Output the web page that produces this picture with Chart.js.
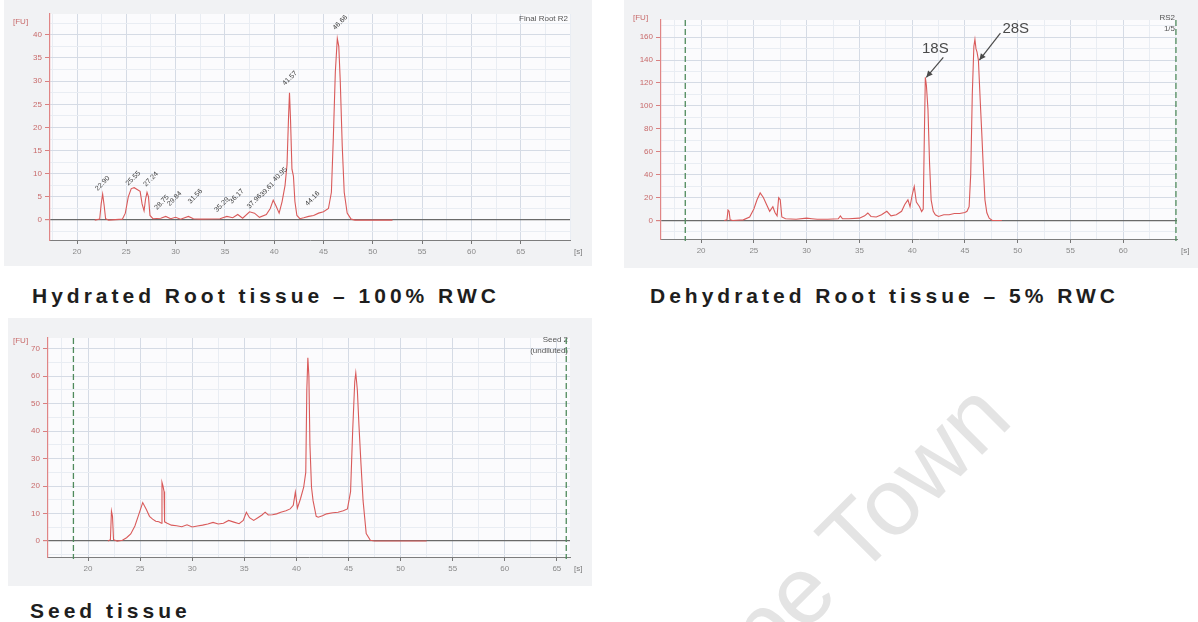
<!DOCTYPE html>
<html>
<head>
<meta charset="utf-8">
<script src="https://cdn.jsdelivr.net/npm/chart.js@4.4.1/dist/chart.umd.min.js"></script>
<style>
  html, body { margin: 0; padding: 0; background: #fff; }
  body { position: relative; width: 1198px; height: 622px; overflow: hidden; font-family: 'Liberation Sans', Arial, sans-serif; }
  canvas { position: absolute; background: #f1f2f4; }
  .caption { position: absolute; font-size: 21px; line-height: 1; font-weight: bold; color: #1e1e1e; letter-spacing: 4px; white-space: nowrap; }
  .watermark { position: absolute; left: 680px; top: 677px; font-size: 95px; line-height: 1; color: #e4e4e4; white-space: nowrap; transform-origin: 0 80px; transform: rotate(-45deg); }
</style>
</head>
<body>
<div class="watermark">Cape Town</div>

<canvas id="hydratedChart" width="588" height="266" style="left:4px;top:0"></canvas>
<canvas id="dehydratedChart" width="574" height="268" style="left:624px;top:0"></canvas>
<canvas id="seedChart" width="584" height="268" style="left:8px;top:318px"></canvas>

<div class="caption" style="left:32px;top:285px">Hydrated Root tissue – 100% RWC</div>
<div class="caption" style="left:650px;top:285px">Dehydrated Root tissue – 5% RWC</div>
<div class="caption" style="left:30px;top:600px">Seed tissue</div>

<script>
// Hydrated root, 100% RWC (time [s], fluorescence [FU])
const hydratedTime = [21.8, 22.3, 22.45, 22.6, 22.75, 22.9, 23.2, 24.6, 24.9, 25.2, 25.5, 25.8, 26.1, 26.4, 26.6, 26.8, 26.95, 27.1, 27.25, 27.4, 27.7, 28.5, 29.0, 29.5, 30.0, 30.5, 31.3, 31.8, 32.5, 34.5, 35.2, 35.8, 36.3, 36.8, 37.5, 38.0, 38.5, 39.2, 39.6, 39.9, 40.2, 40.5, 40.8, 41.1, 41.3, 41.45, 41.55, 41.65, 41.8, 41.95, 42.1, 42.3, 42.6, 43.0, 43.5, 44.0, 44.5, 45.0, 45.5, 45.8, 46.0, 46.2, 46.4, 46.55, 46.7, 46.9, 47.1, 47.4, 47.8, 48.2, 52.0];
const hydratedFU = [0, 0.2, 3.5, 5.6, 3.2, 0.3, 0, 0.2, 1.5, 5.0, 6.8, 7.0, 6.6, 6.2, 3.5, 2.0, 4.5, 6.0, 5.0, 1.0, 0.3, 0.4, 0.8, 0.3, 0.6, 0.2, 0.8, 0.3, 0.2, 0.3, 0.8, 0.5, 1.2, 0.4, 1.8, 1.5, 0.6, 1.2, 2.5, 4.3, 3.0, 1.5, 4.0, 7.5, 12, 22, 27.5, 22, 11, 9.5, 4, 1, 0.3, 0.5, 0.8, 1.0, 1.5, 1.8, 2.5, 6, 18, 32, 39.2, 37.5, 30, 16, 6, 1.5, 0.2, 0, 0];

const hydratedPeakTime = [22.1, 25.2, 27.0, 28.1, 29.4, 31.5, 34.2, 35.7, 37.5, 38.8, 40.1, 41.1, 43.4, 46.2];
const hydratedPeakFU = [6.3, 7.4, 7.2, 2.2, 3.0, 3.5, 1.7, 3.5, 2.4, 5.0, 8.2, 29.0, 3.0, 41.0];
const hydratedPeakText = ['22.90', '25.55', '27.24', '28.75', '29.84', '31.56', '35.29', '36.17', '37.96', '39.61', '40.95', '41.57', '44.16', '46.66'];

const hydratedXLabels = [20, 25, 30, 35, 40, 45, 50, 55, 60, 65];
const hydratedYLabels = [0, 5, 10, 15, 20, 25, 30, 35, 40];

// Dehydrated root, 5% RWC
const dehydratedTime = [22.2, 22.45, 22.55, 22.65, 22.75, 23.0, 24.0, 24.6, 25.0, 25.3, 25.6, 25.9, 26.2, 26.5, 26.8, 27.0, 27.2, 27.35, 27.5, 27.65, 28.0, 29.0, 30.0, 30.5, 31.0, 32.0, 33.0, 33.2, 33.4, 34.0, 35.0, 35.5, 35.8, 36.1, 36.6, 37.1, 37.6, 38.0, 38.5, 39.0, 39.3, 39.6, 39.8, 40.0, 40.2, 40.4, 40.7, 40.9, 41.05, 41.15, 41.25, 41.35, 41.5, 41.65, 41.8, 42.0, 42.2, 42.5, 43.0, 43.5, 44.0, 44.5, 45.0, 45.2, 45.4, 45.55, 45.7, 45.85, 45.95, 46.05, 46.15, 46.28, 46.45, 46.6, 46.75, 46.9, 47.08, 47.3, 47.6, 48.5];
const dehydratedFU = [0, 0.5, 9, 8, 0.5, 0, 0.5, 3, 10, 18, 24, 20, 14, 8, 12, 7, 4, 19.8, 18, 3, 1.5, 1.0, 2.0, 1.5, 1, 1, 1.5, 4, 1.5, 1.5, 2, 4, 6.5, 3.5, 3, 5, 8, 4, 5, 8, 14, 18, 12, 22, 29.7, 16, 12, 7.8, 10, 70, 125, 118, 97, 50, 18, 8, 5, 3.5, 5, 5, 6, 6, 7, 8, 12, 40, 110, 152, 158, 150, 147, 140, 105, 76, 45, 18, 6.7, 2, 0, 0];

const dehydratedBandName = ['18S', '28S'];
const dehydratedBandTime = [41.25, 46.28];
const dehydratedBandFU = [125, 140];

const dehydratedXLabels = [20, 25, 30, 35, 40, 45, 50, 55, 60];
const dehydratedYLabels = [0, 20, 40, 60, 80, 100, 120, 140, 160];
const dehydratedMarkerTime = [18.5, 65.0];

// Seed tissue
const seedTime = [21.9, 22.15, 22.25, 22.35, 22.45, 22.8, 23.3, 23.7, 24.1, 24.5, 24.9, 25.25, 25.6, 25.9, 26.2, 26.5, 26.8, 27.05, 27.1, 27.2, 27.3, 27.35, 27.6, 28.0, 28.5, 29.0, 29.5, 30.0, 30.5, 31.0, 31.5, 32.0, 32.5, 33.0, 33.5, 34.0, 34.5, 34.9, 35.2, 35.5, 35.9, 36.3, 36.7, 37.0, 37.3, 37.7, 38.1, 38.5, 39.0, 39.4, 39.7, 39.9, 40.1, 40.4, 40.7, 40.9, 41.0, 41.1, 41.2, 41.3, 41.45, 41.6, 41.9, 42.1, 42.5, 42.9, 43.5, 44.0, 44.5, 44.9, 45.2, 45.4, 45.6, 45.7, 45.85, 46.0, 46.2, 46.4, 46.7, 47.1, 47.5, 52.5];
const seedFU = [0, 0.5, 10.9, 9, 0.5, 0, 0.3, 1.2, 2.6, 5.5, 10, 14, 11.5, 9, 8, 7.2, 7, 6.5, 21.4, 20, 18, 7, 6.5, 5.8, 5.6, 5.2, 5.9, 5.1, 5.5, 5.8, 6.2, 6.8, 6.2, 6.5, 7.5, 6.9, 6.3, 7.5, 10.5, 8.5, 7.5, 8.5, 9.5, 10.5, 9.5, 9.6, 9.9, 10.5, 11, 11.7, 13, 17.8, 12, 15.5, 19.6, 25, 55, 66.7, 60, 35, 19.6, 14.7, 9, 8.7, 9.2, 9.9, 10.3, 10.5, 11.0, 11.7, 18, 40, 58, 61.2, 55, 42.5, 28, 14.7, 2.7, 0.3, 0, 0];

const seedXLabels = [20, 25, 30, 35, 40, 45, 50, 55, 60, 65];
const seedYLabels = [0, 10, 20, 30, 40, 50, 60, 70];
const seedMarkerTime = [18.6, 65.9];

Chart.defaults.font.family = "'Liberation Sans', Arial, sans-serif";
Chart.defaults.font.size = 8;

const traceColor = '#d95a5a';
const majorGrid = '#d5dbe5';
const minorGrid = '#e9edf3';
const FONT = "'Liberation Sans', Arial, sans-serif";

function toPoints(times, values) {
  return times.map((t, i) => ({ x: t, y: values[i] }));
}

function gridTicks(min, max, step) {
  const ticks = [];
  for (let v = Math.ceil(min / step) * step; v <= max + 1e-6; v += step) {
    ticks.push({ value: Math.round(v * 100) / 100 });
  }
  return ticks;
}

function drawArrow(ctx, x1, y1, x2, y2) {
  const ang = Math.atan2(y2 - y1, x2 - x1);
  ctx.beginPath();
  ctx.moveTo(x1, y1);
  ctx.lineTo(x2, y2);
  ctx.stroke();
  ctx.beginPath();
  ctx.moveTo(x2, y2);
  ctx.lineTo(x2 - 7 * Math.cos(ang - 0.45), y2 - 7 * Math.sin(ang - 0.45));
  ctx.lineTo(x2 - 7 * Math.cos(ang + 0.45), y2 - 7 * Math.sin(ang + 0.45));
  ctx.closePath();
  ctx.fill();
}

function decor(p) {
  return {
    id: 'decor',
    beforeDraw(chart) {
      const { ctx, chartArea: a } = chart;
      ctx.save();
      ctx.fillStyle = '#fbfbfd';
      ctx.fillRect(a.left, a.top, a.right - a.left, a.bottom - a.top);
      ctx.restore();
    },
    afterDraw(chart) {
      const { ctx, chartArea: a, scales: { x, y } } = chart;
      ctx.save();

      ctx.font = '8px ' + FONT;
      ctx.textBaseline = 'alphabetic';
      ctx.textAlign = 'left';
      ctx.fillStyle = '#c86a6a';
      ctx.fillText('[FU]', p.fuPos[0], p.fuPos[1]);
      ctx.fillStyle = '#7a7a7a';
      ctx.fillText('[s]', a.right + 4, a.bottom + 14);

      ctx.fillStyle = '#555';
      ctx.textAlign = 'right';
      p.corner.forEach((line, i) => ctx.fillText(line, a.right - 2, a.top + p.cornerY + i * 11));

      // alignment markers
      ctx.strokeStyle = '#4f8a5c';
      ctx.lineWidth = 1.3;
      ctx.setLineDash([6, 3]);
      (p.markers || []).forEach(t => {
        const px = x.getPixelForValue(t);
        ctx.beginPath();
        ctx.moveTo(px, a.top);
        ctx.lineTo(px, a.bottom + 2);
        ctx.stroke();
      });
      ctx.setLineDash([]);

      // peak time labels
      if (p.peaks) {
        ctx.font = '7px ' + FONT;
        ctx.fillStyle = '#3c3c3c';
        ctx.textAlign = 'left';
        p.peaks.time.forEach((t, i) => {
          ctx.save();
          ctx.translate(x.getPixelForValue(t), y.getPixelForValue(p.peaks.fu[i]));
          ctx.rotate(-Math.PI / 4);
          ctx.fillText(p.peaks.text[i], 0, 0);
          ctx.restore();
        });
      }

      // band annotations
      if (p.bands) {
        ctx.font = '15px ' + FONT;
        ctx.fillStyle = '#4a4a4a';
        ctx.strokeStyle = '#4a4a4a';
        ctx.lineWidth = 1.2;
        p.bands.name.forEach((name, i) => {
          const px = x.getPixelForValue(p.bands.time[i]);
          const py = y.getPixelForValue(p.bands.fu[i]);
          const off = i === 0 ? [18, -20, 10, -24, 'center'] : [22, -27, 24, -27, 'left'];
          drawArrow(ctx, px + off[0], py + off[1], px + 1, py);
          ctx.textAlign = off[4];
          ctx.fillText(name, px + off[2], py + off[3]);
        });
      }
      ctx.restore();
    }
  };
}

function makePanel(canvasId, p) {
  const ctx = document.getElementById(canvasId);
  return new Chart(ctx, {
    type: 'scatter',
    data: {
      datasets: [{
        data: toPoints(p.time, p.fu),
        showLine: true,
        borderColor: traceColor,
        borderWidth: 1.1,
        pointRadius: 0,
        tension: 0
      }]
    },
    options: {
      responsive: false,
      animation: false,
      events: [],
      layout: { padding: { left: 0, top: p.area.top, right: p.area.right, bottom: 0 } },
      plugins: { legend: { display: false }, tooltip: { enabled: false } },
      scales: {
        x: {
          type: 'linear',
          min: p.xMin,
          max: p.xMax,
          afterFit: s => { s.height = p.area.bottom; },
          afterBuildTicks: s => { s.ticks = gridTicks(p.xMin, p.xMax, p.xStep); },
          ticks: {
            autoSkip: false,
            maxRotation: 0,
            color: '#8a8a8a',
            padding: 3,
            callback: v => p.xLabels.includes(v) ? String(v) : ''
          },
          grid: {
            color: c => p.xLabels.includes(c.tick.value) ? majorGrid : minorGrid,
            tickLength: 4,
            tickColor: c => p.xLabels.includes(c.tick.value) ? '#777' : 'rgba(0,0,0,0)'
          },
          border: { color: '#7d7d7d', width: 1 }
        },
        y: {
          min: p.yMin,
          max: p.yMax,
          afterFit: s => { s.width = p.area.left; },
          afterBuildTicks: s => { s.ticks = gridTicks(p.yMin, p.yMax, p.yStep); },
          ticks: {
            autoSkip: false,
            color: '#c86a6a',
            padding: 3,
            callback: v => p.yLabels.includes(v) ? String(v) : ''
          },
          grid: {
            color: c => c.tick.value === 0 ? '#6a6a6a' : (p.yLabels.includes(c.tick.value) ? majorGrid : minorGrid),
            lineWidth: c => c.tick.value === 0 ? 1.2 : 1,
            tickLength: 5,
            tickColor: c => p.yLabels.includes(c.tick.value) ? '#d98080' : 'rgba(0,0,0,0)'
          },
          border: { color: '#e08585', width: 1.2 }
        }
      }
    },
    plugins: [decor(p)]
  });
}

makePanel('hydratedChart', {
  time: hydratedTime, fu: hydratedFU,
  xMin: 17.26, xMax: 70, xStep: 2.5, xLabels: hydratedXLabels,
  yMin: -4.3, yMax: 44.5, yStep: 2.5, yLabels: hydratedYLabels,
  area: { left: 46, top: 14, right: 22, bottom: 26 },
  fuPos: [9, 24],
  corner: ['Final Root R2'], cornerY: 7,
  peaks: { time: hydratedPeakTime, fu: hydratedPeakFU, text: hydratedPeakText }
});

makePanel('dehydratedChart', {
  time: dehydratedTime, fu: dehydratedFU,
  xMin: 16.2, xMax: 65.1, xStep: 2.5, xLabels: dehydratedXLabels,
  yMin: -16.2, yMax: 175, yStep: 10, yLabels: dehydratedYLabels,
  area: { left: 37, top: 20, right: 21, bottom: 29 },
  fuPos: [9, 20],
  corner: ['RS2', '1/5'], cornerY: 0,
  markers: dehydratedMarkerTime,
  bands: { name: dehydratedBandName, time: dehydratedBandTime, fu: dehydratedBandFU }
});

makePanel('seedChart', {
  time: seedTime, fu: seedFU,
  xMin: 16.16, xMax: 66.26, xStep: 2.5, xLabels: seedXLabels,
  yMin: -5.8, yMax: 73.9, yStep: 5, yLabels: seedYLabels,
  area: { left: 40, top: 20, right: 22, bottom: 29 },
  fuPos: [5, 25],
  corner: ['Seed 2', '(undiluted)'], cornerY: 4,
  markers: seedMarkerTime
});
</script>
</body>
</html>
